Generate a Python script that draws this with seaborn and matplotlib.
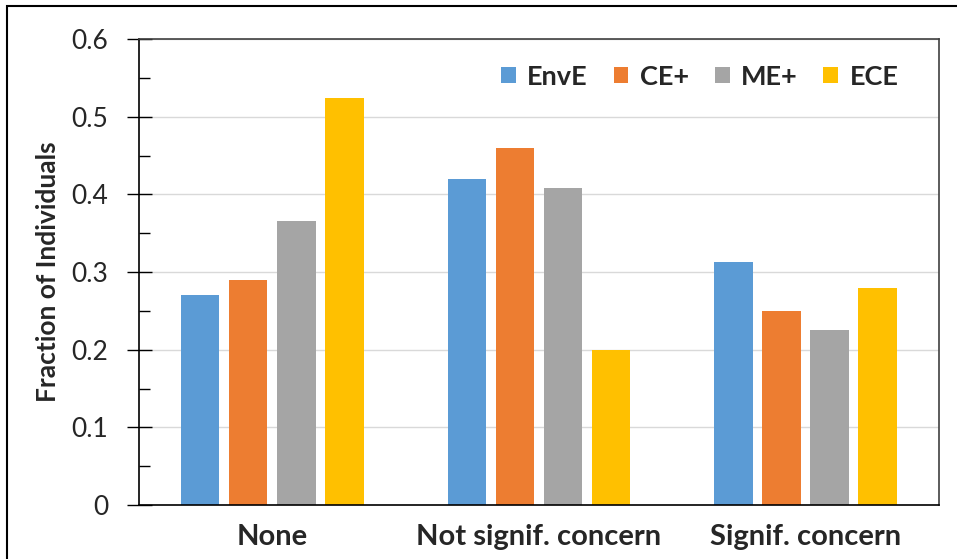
import numpy as np
import pandas as pd
import matplotlib
matplotlib.use("Agg")
import matplotlib.pyplot as plt
from matplotlib.patches import Rectangle
from matplotlib.ticker import MultipleLocator, FuncFormatter
import seaborn as sns

# Data
categories = ["None", "Not signif. concern", "Signif. concern"]
series = ["EnvE", "CE+", "ME+", "ECE"]
enve = [0.270, 0.420, 0.313]
ce_plus = [0.290, 0.460, 0.250]
me_plus = [0.366, 0.408, 0.225]
ece = [0.524, 0.200, 0.279]
colors = ["#5B9BD5", "#ED7D31", "#A5A5A5", "#FFC000"]

rows = []
for name, vals in zip(series, [enve, ce_plus, me_plus, ece]):
    for cat, v in zip(categories, vals):
        rows.append({"Category": cat, "Series": name, "Value": v})
df = pd.DataFrame(rows)

sns.set_style("white")
plt.rcParams["font.family"] = ["Lato", "DejaVu Sans"]

fig = plt.figure(figsize=(9.57, 5.59), dpi=100)
ax = fig.add_axes([0.1452, 0.0966, 0.8360, 0.8336])

sns.barplot(data=df, x="Category", y="Value", hue="Series", order=categories,
            hue_order=series, palette=colors, saturation=1, width=0.72, gap=0.2,
            linewidth=0, ax=ax)

ax.set_ylim(0, 0.6)
ax.set_xlim(-0.5, 2.5)
ax.yaxis.set_major_locator(MultipleLocator(0.1))
ax.yaxis.set_minor_locator(MultipleLocator(0.05))
ax.yaxis.set_major_formatter(FuncFormatter(lambda v, p: "0" if abs(v) < 1e-9 else f"{v:.1f}"))
ax.yaxis.grid(True, which="major", color="#d9d9d9", linewidth=1)
ax.set_axisbelow(True)

ax.tick_params(axis="y", which="major", direction="inout", length=18, width=1,
               color="black", labelsize=19, pad=13, left=True)
ax.tick_params(axis="y", which="minor", direction="in", length=8, width=1,
               color="black", left=True)
ax.tick_params(axis="x", length=0, labelsize=21, pad=14)
for lbl in ax.get_xticklabels():
    lbl.set_fontweight("bold")

ax.set_xlabel("")
ax.set_ylabel("Fraction of Individuals", fontsize=19, fontweight="bold", labelpad=8)

for side in ["left", "bottom"]:
    ax.spines[side].set_color("black")
    ax.spines[side].set_linewidth(1.2)
for side in ["top", "right"]:
    ax.spines[side].set_color("#404040")
    ax.spines[side].set_linewidth(1.2)

leg = ax.legend(loc="upper right", bbox_to_anchor=(0.963, 0.968), ncol=4,
                frameon=False, prop={"size": 19.5, "weight": "bold"},
                handlelength=0.55, handleheight=0.55, handletextpad=0.42,
                columnspacing=0.95, borderaxespad=0)

# outer frame of the original figure (cropped on right and bottom)
fig.patches.append(Rectangle((7 / 957, -0.1), 1.2, 1.1 - 6 / 559,
                             transform=fig.transFigure, fill=False,
                             edgecolor="black", linewidth=1.5))

fig.savefig("out.png", dpi=100)
